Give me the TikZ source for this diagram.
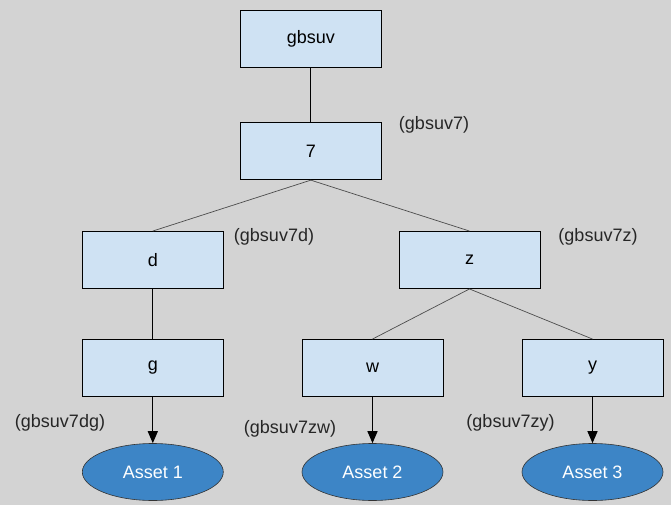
\documentclass[tikz,border=0pt]{standalone}
\usepackage{fontspec}
\setmainfont{Liberation Sans}
\usetikzlibrary{arrows.meta,shapes.geometric}
\definecolor{bg}{HTML}{D3D3D3}
\definecolor{boxfill}{HTML}{CFE2F3}
\definecolor{assetfill}{HTML}{3D85C6}
\tikzset{
  every node/.style={font=\fontsize{18}{20}\selectfont},
  keybox/.style={draw=black, fill=boxfill, line width=0.9pt, minimum width=141pt, minimum height=57pt, inner sep=0pt},
  asset/.style={draw=black!80, fill=assetfill, ellipse, line width=0.6pt, minimum width=141pt, minimum height=57pt, inner sep=0pt, text=white},
  tag/.style={text=black!85},
  trunk/.style={draw=black, line width=0.9pt},
  branch/.style={draw=black!70, line width=0.7pt},
  link/.style={draw=black, line width=1.3pt, -{Triangle[length=12pt,width=10pt]}}
}
\begin{document}
\begin{tikzpicture}[x=1pt,y=-1pt]
  \fill[bg] (0,0) rectangle (671,505);
  \useasboundingbox (0,0) rectangle (671,505);

  % key nodes
  \node[keybox] (root) at (310.8,38.5) {gbsuv};
  \node[keybox] (n7)   at (310.8,151.2) {7};
  \node[keybox] (nd)   at (152.8,260) {d};
  \node[keybox] (nz)   at (469.5,260) {z};
  \node[keybox] (ng)   at (152.8,368) {g};
  \node[keybox] (nw)   at (372.5,368) {w};
  \node[keybox] (ny)   at (592.5,368) {y};

  % assets
  \node[asset] (a1) at (152.8,472) {Asset 1};
  \node[asset] (a2) at (372.5,472) {Asset 2};
  \node[asset] (a3) at (592.5,472) {Asset 3};

  % path labels
  \node[tag] (t7)  at (434,125) {(gbsuv7)};
  \node[tag] (td)  at (274,237) {(gbsuv7d)};
  \node[tag] (tz)  at (598,237) {(gbsuv7z)};
  \node[tag] (tg)  at (60,423) {(gbsuv7dg)};
  \node[tag] (tw)  at (290,429) {(gbsuv7zw)};
  \node[tag] (ty)  at (510.5,423) {(gbsuv7zy)};

  % tree edges
  \draw[trunk] (root.south) -- (n7.north);
  \draw[trunk] (nd.south) -- (ng.north);
  \draw[branch] (n7.south) -- (nd.north);
  \draw[branch] (n7.south) -- (nz.north);
  \draw[branch] (nz.south) -- (nw.north);
  \draw[branch] (nz.south) -- (ny.north);

  % leaf to asset
  \draw[link] (ng.south) -- (a1.north);
  \draw[link] (nw.south) -- (a2.north);
  \draw[link] (ny.south) -- (a3.north);
\end{tikzpicture}
\end{document}
